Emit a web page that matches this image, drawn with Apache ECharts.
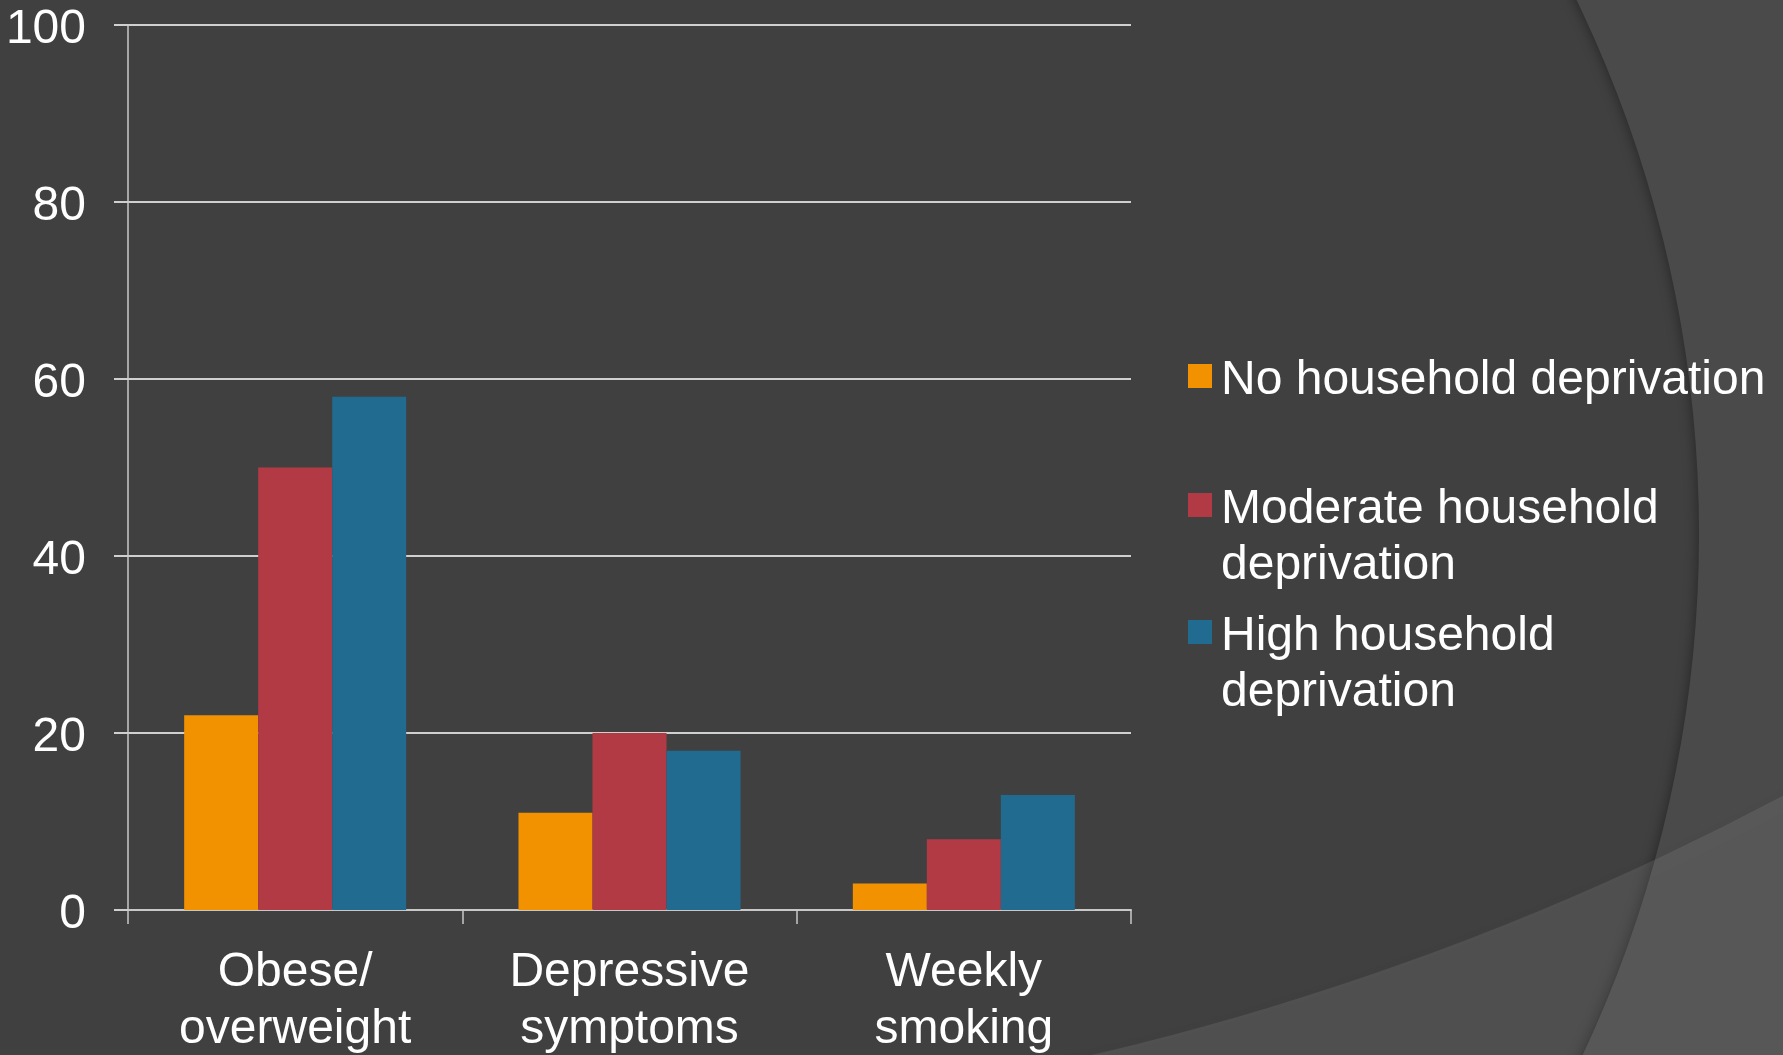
<!DOCTYPE html>
<html>
<head>
<meta charset="utf-8">
<script src="https://cdn.jsdelivr.net/npm/echarts@6/dist/echarts.min.js"></script>
<style>
    html, body {
        margin: 0;
        padding: 0;
        background: #404040;
    }
    #chart {
        width: 1783px;
        height: 1055px;
    }
</style>
</head>
<body>
<div id="chart"></div>
<script>
const categories = ['Obese/\noverweight', 'Depressive\nsymptoms', 'Weekly\nsmoking']
const seriesNames = ['No household deprivation', 'Moderate household deprivation', 'High household deprivation']
const noDeprivation = [22, 11, 3]
const moderateDeprivation = [50, 20, 8]
const highDeprivation = [58, 18, 13]
const yTicks = [0, 20, 40, 60, 80, 100]

const colors = ['#F39200', '#B13A45', '#216A90']
const font = "'Liberation Sans', Arial, sans-serif"

const values = [noDeprivation, moderateDeprivation, highDeprivation]

// square marker sitting next to the first text line of a legend entry
// (tiny corner dots stretch the icon box to the full entry height)
function markerIcon (h) {
    return 'path://M0,0L0.01,0L0,0.01Z' +
        'M0,11L24,11L24,35L0,35Z' +
        'M24,' + h + 'L23.99,' + h + 'L24,' + (h - 0.01) + 'Z'
}

// one legend per entry, so each one can sit at its own height
const legendTops = [353, 482, 609]
const legends = seriesNames.map((name, i) => {
    const h = i === 0 ? 56 : 112
    return {
        data: [{ name, icon: markerIcon(h) }],
        orient: 'vertical',
        left: 1188,
        top: legendTops[i],
        padding: 0,
        itemWidth: 24,
        itemHeight: h,
        selectedMode: false,
        formatter: (n) => i === 0 ? n : n.replace(' deprivation', '\ndeprivation'),
        textStyle: {
            color: '#ffffff',
            fontSize: 48,
            fontFamily: font,
            lineHeight: 56,
            padding: [0, 0, 0, 4]
        }
    }
})

const option = {
    backgroundColor: '#404040',
    animation: false,
    graphic: [
        {
            // lighter area outside the big circle on the right
            type: 'ring',
            z: -10,
            silent: true,
            shape: { cx: 474, cy: 534, r0: 1225, r: 3200 },
            style: {
                fill: '#4a4a4a',
                shadowBlur: 14,
                shadowColor: 'rgba(0,0,0,0.45)'
            }
        },
        {
            // bottom right wedge
            type: 'ring',
            z: -8,
            silent: true,
            shape: { cx: 440, cy: -1735, r0: 2865, r: 6000 },
            style: {
                fill: 'rgba(255,255,255,0.09)',
                shadowBlur: 12,
                shadowColor: 'rgba(0,0,0,0.3)'
            }
        }
    ],
    grid: {
        left: 128,
        right: 652,
        top: 25,
        bottom: 145,
        containLabel: false,
        outerBoundsMode: 'none'
    },
    legend: legends,
    xAxis: {
        type: 'category',
        data: categories,
        axisLine: {
            show: true,
            lineStyle: { color: '#c8c8c8', width: 2 }
        },
        axisTick: {
            show: true,
            length: 14,
            lineStyle: { color: '#c8c8c8', width: 1.5 }
        },
        axisLabel: {
            color: '#ffffff',
            fontSize: 48,
            fontFamily: font,
            lineHeight: 57,
            margin: 34,
            interval: 0
        }
    },
    yAxis: {
        type: 'value',
        min: yTicks[0],
        max: yTicks[yTicks.length - 1],
        interval: 20,
        axisLine: {
            show: true,
            lineStyle: { color: '#c8c8c8', width: 1.5 }
        },
        axisTick: {
            show: true,
            length: 14,
            lineStyle: { color: '#d0d0d0', width: 2 }
        },
        axisLabel: {
            color: '#ffffff',
            fontSize: 48,
            fontFamily: font,
            margin: 42,
            // small line box so the digits sit a little below their gridline
            verticalAlign: 'top',
            lineHeight: 10
        },
        splitLine: {
            lineStyle: { color: '#d0d0d0', width: 2 }
        }
    },
    series: seriesNames.map((name, i) => ({
        name,
        type: 'bar',
        data: values[i],
        barWidth: 74,
        barGap: '0%',
        itemStyle: { color: colors[i] }
    }))
}

const myChart = echarts.init(document.getElementById('chart'))
myChart.setOption(option)
</script>
</body>
</html>
